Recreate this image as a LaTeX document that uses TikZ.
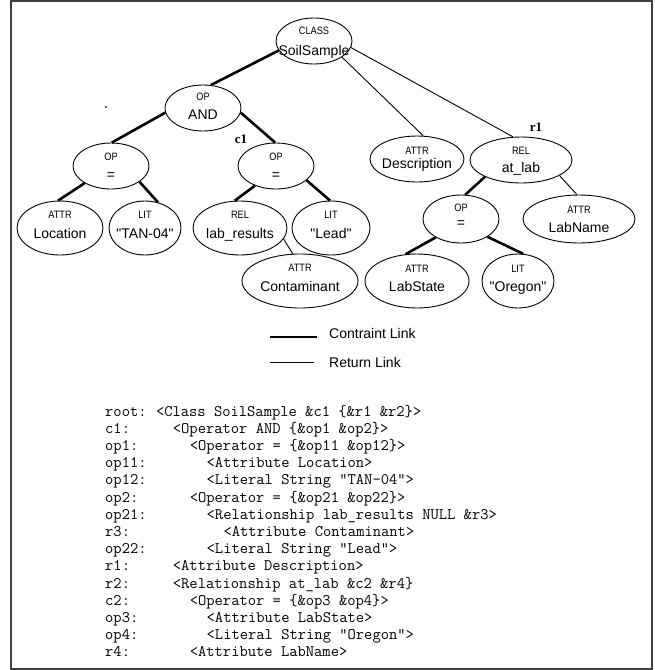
\documentclass[tikz,border=0pt]{standalone}
\usepackage{fontspec}
\newfontfamily\labfont{Liberation Sans}
\newfontfamily\tagfont[FakeStretch=0.86]{Liberation Sans}
\newfontfamily\markfont{Liberation Serif}
\usetikzlibrary{shapes.geometric}

% entity: name, x, y, rx, ry, tag, label, tag centre y, label baseline y
\newcommand{\entnode}[9]{%
  \node[ent, minimum width={2*#4pt}, minimum height={2*#5pt}] (#1) at (#2,#3) {};
  \node[tagtext] (#1-tag) at (#2,#8) {#6};
  \node[labtext] (#1-lab) at (#2,#9) {#7};
}
% one line of the listing: name, baseline y, label, indent x, text
\newcommand{\codeln}[5]{%
  \node[code] (#1) at (105,#2) {#3};
  \node[code] (#1-t) at (#4,#2) {#5};
}

\begin{document}
\begin{tikzpicture}[x=1pt, y=-1pt,
  ent/.style={ellipse, draw, line width=0.9pt, inner sep=0pt},
  tagtext/.style={anchor=center, inner sep=0pt, font=\tagfont\fontsize{10.7}{12}\selectfont},
  labtext/.style={anchor=base, inner sep=0pt, font=\labfont\fontsize{14}{16}\selectfont},
  constraint/.style={line width=2.6pt},
  retlink/.style={line width=0.9pt},
  refmark/.style={inner sep=0pt, font=\markfont\bfseries\fontsize{13}{15}\selectfont},
  legendtext/.style={anchor=base west, inner sep=0pt, font=\labfont\fontsize{14}{16}\selectfont},
  code/.style={anchor=base west, inner sep=0pt, font=\ttfamily\fontsize{16.1}{18}\selectfont}]

\useasboundingbox (0,0) rectangle (655,670);
\draw[line width=1.5pt, draw=black!75] (11,1) rectangle (652,669);

% tree nodes
\entnode{cls}{314}{41}{38}{23}{CLASS}{SoilSample}{31}{55}
\entnode{and}{203}{108}{38}{23}{OP}{AND}{97}{119}
\entnode{opl}{111}{166}{38}{23}{OP}{=}{157}{179}
\entnode{opc}{276}{166}{38}{23}{OP}{=}{157}{179}
\entnode{loc}{60}{228}{43}{27}{ATTR}{Location}{215}{238}
\entnode{tan}{145}{228}{36}{27}{LIT}{"TAN-04"}{215}{238}
\entnode{labr}{240}{228}{47}{27}{REL}{lab\_results}{215}{238}
\entnode{lead}{331}{228}{39}{27}{LIT}{"Lead"}{215}{238}
\entnode{cont}{300}{281}{58}{27}{ATTR}{Contaminant}{268}{291}
\entnode{desc}{417}{159}{47}{23}{ATTR}{Description}{150.5}{168}
\entnode{atlab}{521}{160}{51}{23}{REL}{at\_lab}{151}{172}
\entnode{opr}{461}{219}{38}{24}{OP}{=}{208}{227}
\entnode{lname}{579}{219}{56}{24}{ATTR}{LabName}{210}{232}
\entnode{lstate}{417}{281}{52}{27}{ATTR}{LabState}{269}{291}
\entnode{oreg}{518}{281}{36}{27}{LIT}{"Oregon"}{269}{291}

% constraint links
\draw[constraint] (and.71) -- (cls.195);
\draw[constraint] (and.187) -- (opl.88);
\draw[constraint] (and.353) -- (opc.92);
\draw[constraint] (opl.213) -- (loc.94);
\draw[constraint] (opl.331) -- (tan.63);
\draw[constraint] (opc.223) -- (labr.101);
\draw[constraint] (opc.335) -- (lead.92);
\draw[constraint] (atlab.205) -- (opr.80);
\draw[constraint] (opr.216) -- (lstate.113);
\draw[constraint] (opr.326) -- (oreg.79);

% return links
\draw[retlink] (labr.346) -- (cont.105);
\draw[retlink] (cls.330) -- (desc.75);
\draw[retlink] (cls.350) -- (atlab.109);
\draw[retlink] (atlab.338) -- (lname.95);

% reference marks
\node[refmark] (c1mark) at (241,139) {c1};
\node[refmark] (r1mark) at (536,127) {r1};
\fill[black!60] (105,106) rectangle (107,108);

% legend
\coordinate (cl1) at (270,337);
\coordinate (cl2) at (317,337);
\coordinate (rl1) at (270,362);
\coordinate (rl2) at (314,362);
\draw[constraint] (cl1) -- (cl2);
\draw[retlink] (rl1) -- (rl2);
\node[legendtext] (cltext) at (329,338) {Contraint Link};
\node[legendtext] (rltext) at (329,367) {Return Link};

% listing
\codeln{ln1}{416}{root:}{155.8}{<Class SoilSample \&c1 \{\&r1 \&r2\}>}
\codeln{ln2}{433.2}{c1:}{172.7}{<Operator AND \{\&op1 \&op2\}>}
\codeln{ln3}{450.4}{op1:}{189.6}{<Operator = \{\&op11 \&op12\}>}
\codeln{ln4}{467.6}{op11:}{206.5}{<Attribute Location>}
\codeln{ln5}{484.8}{op12:}{206.5}{<Literal String "TAN-04">}
\codeln{ln6}{502}{op2:}{189.6}{<Operator = \{\&op21 \&op22\}>}
\codeln{ln7}{519.2}{op21:}{206.5}{<Relationship lab\_results NULL \&r3>}
\codeln{ln8}{536.4}{r3:}{223.4}{<Attribute Contaminant>}
\codeln{ln9}{553.6}{op22:}{206.5}{<Literal String "Lead">}
\codeln{ln10}{570.8}{r1:}{172.7}{<Attribute Description>}
\codeln{ln11}{588}{r2:}{172.7}{<Relationship at\_lab \&c2 \&r4\}}
\codeln{ln12}{605.2}{c2:}{189.6}{<Operator = \{\&op3 \&op4\}>}
\codeln{ln13}{622.4}{op3:}{206.5}{<Attribute LabState>}
\codeln{ln14}{639.6}{op4:}{206.5}{<Literal String "Oregon">}
\codeln{ln15}{656.8}{r4:}{189.6}{<Attribute LabName>}
\end{tikzpicture}
\end{document}
